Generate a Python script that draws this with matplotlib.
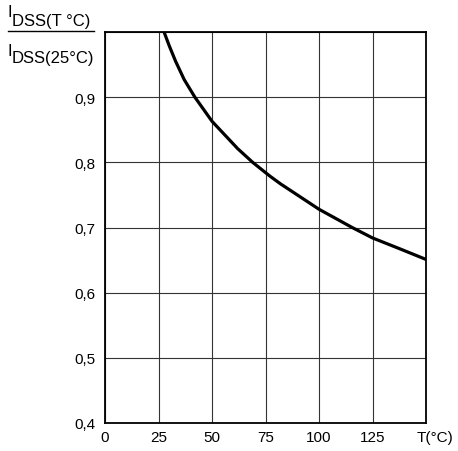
import matplotlib
matplotlib.use("Agg")
import matplotlib.pyplot as plt
from matplotlib.lines import Line2D

plt.rcParams["font.family"] = ["Liberation Sans", "DejaVu Sans"]

# curve
temp_c = [27.6, 30, 33, 37, 42, 50, 62, 69, 77, 82, 100, 115.5, 125, 138, 150]
idss_ratio = [1.0, 0.979, 0.955, 0.927, 0.9, 0.863, 0.821, 0.8, 0.779, 0.767,
              0.728, 0.7, 0.684, 0.667, 0.651]

x_ticks = [0, 25, 50, 75, 100, 125, 150]
x_tick_labels = ["0", "25", "50", "75", "100", "125", ""]
y_ticks = [0.4, 0.5, 0.6, 0.7, 0.8, 0.9, 1.0]
y_tick_labels = ["0,4", "0,5", "0,6", "0,7", "0,8", "0,9", ""]

W, H = 458, 452
fig = plt.figure(figsize=(W / 100, H / 100), dpi=100)
ax = fig.add_axes([105 / W, 1 - 424 / H, 321 / W, 391 / H])

ax.plot(temp_c, idss_ratio, color="black", linewidth=2.3,
        solid_capstyle="butt", zorder=3)

ax.set_xlim(0, 150)
ax.set_ylim(0.4, 1.0)
ax.set_xticks(x_ticks)
ax.set_xticklabels(x_tick_labels)
ax.set_yticks(y_ticks)
ax.set_yticklabels(y_tick_labels)
ax.tick_params(axis="both", length=0, labelsize=11, colors="black")
ax.tick_params(axis="y", pad=7)
ax.tick_params(axis="x", pad=5)
ax.grid(True, color="#333333", linewidth=0.8)
for spine in ax.spines.values():
    spine.set_linewidth(1.3)
    spine.set_color("black")

def px(x, y):
    return x / W, 1 - y / H

# x axis unit label at the last grid line
fig.text(*px(435, 438), "T(°C)", fontsize=11, ha="center", va="center")

# y axis label as a fraction
fig.text(*px(7.5, 16.7), "I", fontsize=12, ha="left", va="baseline")
fig.text(*px(11.5, 25.7), "DSS(T °C)", fontsize=12, ha="left", va="baseline")
fig.add_artist(Line2D([8.3 / W, 94.3 / W], [1 - 32.3 / H, 1 - 32.3 / H],
                      color="black", linewidth=1.0))
fig.text(*px(7.5, 55.7), "I", fontsize=12, ha="left", va="baseline")
fig.text(*px(11.5, 63.3), "DSS(25°C)", fontsize=12, ha="left", va="baseline")

fig.savefig("out.png", dpi=100)
plt.close(fig)
